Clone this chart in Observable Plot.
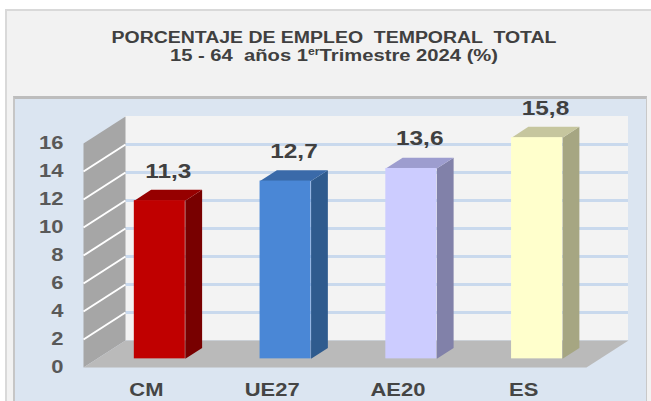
<!DOCTYPE html>
<html><head><meta charset="utf-8">
<script src="https://cdn.jsdelivr.net/npm/d3@7"></script>
<script src="https://cdn.jsdelivr.net/npm/@observablehq/plot@0.6"></script>
<style>
body{margin:0;background:#fff;}
#wrap{position:relative;width:651px;height:401px;overflow:hidden;font-family:"Liberation Sans",Arial,sans-serif;}
#outer{position:absolute;left:5px;top:9px;width:700px;height:450px;background:#f2f2f2;border:2px solid #d9d9d9;box-sizing:border-box}
#inner{position:absolute;left:13px;top:96px;width:634px;height:400px;background:#dbe5f1;border-top:3px solid #bdbdbd;border-left:2px solid #c6c6c6;border-right:1px solid #c9c9c9;box-sizing:border-box}
.t{position:absolute;left:334px;white-space:pre;font-weight:bold;color:#404040;transform-origin:50% 50%;}
#l1{top:30px;font-size:16px;line-height:16px;}
#l2{top:47px;font-size:16.5px;line-height:16.5px;}
#l2 .sup{font-size:10px;position:relative;top:-6px;}
#chart{position:absolute;left:0;top:0}
</style></head>
<body>
<div id="wrap">
  <div id="outer"></div>
  <div id="inner"></div>
  <div class="t" id="l1">PORCENTAJE DE EMPLEO  TEMPORAL  TOTAL</div>
  <div class="t" id="l2">15 - 64  años 1<span class="sup">er</span>Trimestre 2024 (%)</div>
  <div id="chart"></div>
</div>
<script>
// ---- data ----
const categories = ["CM", "UE27", "AE20", "ES"];
const values = [11.3, 12.7, 13.6, 15.8];
const yTicks = [0, 2, 4, 6, 8, 10, 12, 14, 16];

// ---- styles ----
const frontColors = ["#c00000", "#4a87d6", "#ccccff", "#ffffcc"];
const sideColors  = ["#780000", "#2f5b8e", "#8181a9", "#a6a682"];
const topColors   = ["#960000", "#3a6aa9", "#9d9dcf", "#c6c69e"];

// ---- geometry ----
const W = 651, H = 401;
const mL = 83, mR = 65, mT = 143, mB = 34;
const xDom = [-0.5, categories.length - 0.5];
const yDom = [0, 16];
const pxX = (W - mL - mR) / (xDom[1] - xDom[0]);
const pxY = (H - mT - mB) / (yDom[1] - yDom[0]);
const ddx = 42 / pxX, ddy = 27 / pxY;      // full depth of the floor/walls
const f0 = 0.32, f1 = 0.40;                 // bar front plane, bar depth (fractions)
const hw = 25.5 / pxX;                      // half bar width

const rows = values.map((v, i) => ({i, v, cat: categories[i]}));
const poly = (pts, fill) => Plot.line(pts, {x: d => d[0], y: d => d[1], fill, stroke: "none", curve: "linear"});

const [x0, x1] = xDom, yTop = yDom[1];
const marks = [
  Plot.rect([0], {x1: x0 + ddx, x2: x1 + ddx, y1: ddy, y2: yTop + ddy, fill: "#f3f3f3"}),
  Plot.ruleY(yTicks.filter(v => v > 0 && v < yTop), {y: v => v + ddy, x1: x0 + ddx, x2: x1 + ddx, stroke: "#c9d9ed", strokeWidth: 3}),
  poly([[x0, 0], [x0 + ddx, ddy], [x0 + ddx, yTop + ddy], [x0, yTop]], "#a6a6a6"),
  Plot.link(yTicks.filter(v => v > 0 && v < yTop), {x1: () => x0, y1: v => v, x2: () => x0 + ddx, y2: v => v + ddy, stroke: "#ffffff", strokeWidth: 2}),
  poly([[x0, 0], [x1, 0], [x1 + ddx, ddy], [x0 + ddx, ddy]], "#bababa"),
];
rows.forEach(({i, v}) => {
  const L = i - hw + f0 * ddx, R = i + hw + f0 * ddx, b = f0 * ddy, t = v + f0 * ddy;
  const ex = f1 * ddx, ey = f1 * ddy;
  marks.push(poly([[R, b], [R + ex, b + ey], [R + ex, t + ey], [R, t]], sideColors[i]));
  marks.push(poly([[L, t], [R, t], [R + ex, t + ey], [L + ex, t + ey]], topColors[i]));
});
marks.push(
  Plot.rect(rows, {x1: d => d.i - hw + f0 * ddx, x2: d => d.i + hw + f0 * ddx, y1: () => f0 * ddy, y2: d => d.v + f0 * ddy, fill: d => frontColors[d.i]}),
  Plot.text(rows, {x: d => d.i + (f0 + f1 / 2) * ddx, y: d => d.v + f0 * ddy, text: d => d.v.toFixed(1).replace(".", ","),
    dy: -23, lineAnchor: "bottom", textAnchor: "middle", fontSize: 20, fontWeight: "bold", fill: "#404040"}),
  Plot.axisY({ticks: yTicks, tickSize: 0, tickPadding: 20, fontSize: 18, fontWeight: "bold", fill: "#595959", label: null}),
  Plot.axisX({ticks: d3.range(categories.length), tickFormat: i => categories[i], tickSize: 0, tickPadding: 16, fontSize: 18, fontWeight: "bold", fill: "#454545", label: null})
);

const chart = Plot.plot({
  width: W, height: H,
  marginLeft: mL, marginRight: mR, marginTop: mT, marginBottom: mB,
  x: {domain: xDom, axis: null},
  y: {domain: yDom, axis: null},
  color: {type: "identity"},
  style: {background: "transparent", fontFamily: "Liberation Sans, Arial, sans-serif", overflow: "visible"},
  marks
});
document.getElementById("chart").appendChild(chart);

// horizontal stretch of the text, as in the reference
const S = 1.22;
chart.querySelectorAll("text").forEach(t => {
  const len = t.getComputedTextLength();
  if (len > 0) {
    t.setAttribute("textLength", (len * S).toFixed(2));
    t.setAttribute("lengthAdjust", "spacingAndGlyphs");
  }
});

// title lines fitted to the reference widths
[["l1", 445], ["l2", 328]].forEach(([id, target]) => {
  const el = document.getElementById(id);
  const w = el.offsetWidth;
  el.style.transform = `translateX(-50%) scaleX(${target / w})`;
});
</script>
</body></html>
